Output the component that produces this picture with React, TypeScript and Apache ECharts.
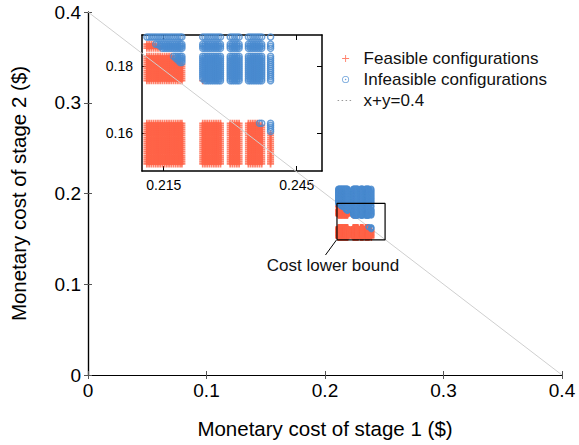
import React, { useEffect, useRef } from "react";
import * as echarts from "echarts";

// x positions (stage 1 cost, $) of the configuration columns
const colsA = [0.2112, 0.2117, 0.2122, 0.2127, 0.2132, 0.2137, 0.2142, 0.2147, 0.2152, 0.2157, 0.2162, 0.2167, 0.2172, 0.2177, 0.2182, 0.2187, 0.2191];
const colsB = [0.2238, 0.2243, 0.2248, 0.2253, 0.2258, 0.2263, 0.2268, 0.2273, 0.2278];
const colsC = [0.23, 0.2305, 0.231, 0.2315, 0.232];
const colsD = [0.2341, 0.2346, 0.2351, 0.2356, 0.2361, 0.2366, 0.2371];
const colsE = [0.2391];

// y positions (stage 2 cost, $) of the configuration rows
const rowsLow = [0.151, 0.1516, 0.1522, 0.1528, 0.1534, 0.154, 0.1546, 0.1552, 0.1558, 0.1564, 0.157, 0.1576, 0.1582, 0.1588, 0.1594, 0.16, 0.1606, 0.1612, 0.1618, 0.1624, 0.163];
const rowsMid = [0.1756, 0.1762, 0.1768, 0.1774, 0.178, 0.1786, 0.1792, 0.1798, 0.1804, 0.181, 0.1816, 0.1822, 0.1828];
const rowsUpper = [0.1852, 0.1858, 0.1864];
const rowsTop = [0.1885, 0.1893, 0.1901, 0.1909, 0.1917, 0.1925, 0.1933, 0.1941, 0.1949, 0.1957, 0.1965, 0.1973, 0.1981, 0.1989, 0.1997, 0.2005, 0.2013, 0.2021, 0.2029, 0.2037, 0.2045, 0.2053];

// total cost budget separating feasible from infeasible configurations
const costBudget = 0.3995;

// axis ticks and ranges
const mainTicks = [0, 0.1, 0.2, 0.3, 0.4];
const insetXTicks = [0.215, 0.245];
const insetYTicks = [0.16, 0.18];
const insetXRange = [0.2101, 0.2507];
const insetYRange = [0.1489, 0.1891];
const boundLine = [
  [0, 0.4],
  [0.4, 0],
];
// zoom box corners (same range as the inset)
const zoomBox = [
  [insetXRange[0], insetYRange[0]],
  [insetXRange[1], insetYRange[0]],
  [insetXRange[1], insetYRange[1]],
  [insetXRange[0], insetYRange[1]],
  [insetXRange[0], insetYRange[0]],
];

const xColumns = [...colsA, ...colsB, ...colsC, ...colsD, ...colsE];
const yRows = [...rowsLow, ...rowsMid, ...rowsUpper, ...rowsTop];
const configs: number[][] = [];
xColumns.forEach((x) => yRows.forEach((y) => configs.push([x, y])));
const feasible = configs.filter((p) => p[0] + p[1] <= costBudget);
const infeasible = configs.filter((p) => p[0] + p[1] > costBudget);
const inInset = (p: number[]) => p[1] <= insetYRange[1] + 0.004;
const feasibleInset = feasible.filter(inInset);
const infeasibleInset = infeasible.filter(inInset);

const RED = "#ff6347";
const BLUE = "#4a8bcf";
const FONT = "'Liberation Sans', Arial, Helvetica, sans-serif";
const PLUS = "path://M-6,-1.5L6,-1.5L6,1.5L-6,1.5Z M-1.5,-6L1.5,-6L1.5,6L-1.5,6Z";
const PLUS_THIN = "path://M-6,-0.8L6,-0.8L6,0.8L-6,0.8Z M-0.8,-6L0.8,-6L0.8,6L-0.8,6Z";
const RING =
  "path://M0,-6A6,6 0 1,1 0,6A6,6 0 1,1 0,-6Z M0,-4.6A4.6,4.6 0 1,0 0,4.6A4.6,4.6 0 1,0 0,-4.6Z M0,-1.3A1.3,1.3 0 1,1 0,1.3A1.3,1.3 0 1,1 0,-1.3Z";

export default function App() {
  const ref = useRef<HTMLDivElement>(null);
  useEffect(() => {
    if (!ref.current) return;
    const chart = echarts.init(ref.current, undefined, { renderer: "svg" });
    const mainAxisCommon = {
      type: "value" as const,
      min: 0,
      max: 0.4,
      interval: 0.1,
      splitLine: { show: false },
      axisLine: { show: true, lineStyle: { color: "#000", width: 1.2 } },
      axisTick: { show: true, inside: true, length: 4, lineStyle: { color: "#555" } },
    };
    const insetAxisLine = { show: true, lineStyle: { color: "#000", width: 1.5 } };
    const insetTick = (vals: number[]) => ({
      show: true,
      inside: true,
      length: 5,
      customValues: vals,
      lineStyle: { color: "#000", width: 1 },
    });
    chart.setOption({
      animation: false,
      textStyle: { fontFamily: FONT },
      grid: [
        { left: 87, right: 17, top: 12, bottom: 70 },
        { left: 142, top: 35, width: 180, height: 136 },
      ],
      xAxis: [
        {
          ...mainAxisCommon,
          gridIndex: 0,
          position: "bottom",
          name: "Monetary cost of stage 1 ($)",
          nameLocation: "middle",
          nameGap: 43,
          nameTextStyle: { fontSize: 20.5, color: "#000", fontFamily: FONT },
          axisLabel: { fontSize: 19, color: "#000", margin: 6, fontFamily: FONT, customValues: mainTicks },
        },
        {
          ...mainAxisCommon,
          gridIndex: 0,
          position: "top",
          axisLabel: { show: false },
        },
        {
          type: "value",
          gridIndex: 1,
          position: "bottom",
          min: insetXRange[0],
          max: insetXRange[1],
          splitLine: { show: false },
          axisLine: insetAxisLine,
          axisTick: insetTick(insetXTicks),
          axisLabel: { fontSize: 14, color: "#000", margin: 7, fontFamily: FONT, customValues: insetXTicks },
        },
        {
          type: "value",
          gridIndex: 1,
          position: "top",
          min: insetXRange[0],
          max: insetXRange[1],
          splitLine: { show: false },
          axisLine: insetAxisLine,
          axisTick: insetTick(insetXTicks),
          axisLabel: { show: false },
        },
      ],
      yAxis: [
        {
          ...mainAxisCommon,
          gridIndex: 0,
          position: "left",
          name: "Monetary cost of stage 2 ($)",
          nameLocation: "middle",
          nameGap: 59,
          nameTextStyle: { fontSize: 20.5, color: "#000", fontFamily: FONT },
          axisLabel: { fontSize: 19, color: "#000", margin: 7, fontFamily: FONT, customValues: mainTicks },
        },
        {
          ...mainAxisCommon,
          gridIndex: 0,
          position: "right",
          axisLabel: { show: false },
        },
        {
          type: "value",
          gridIndex: 1,
          position: "left",
          min: insetYRange[0],
          max: insetYRange[1],
          splitLine: { show: false },
          axisLine: insetAxisLine,
          axisTick: insetTick(insetYTicks),
          axisLabel: { fontSize: 14, color: "#000", margin: 9, fontFamily: FONT, customValues: insetYTicks },
        },
        {
          type: "value",
          gridIndex: 1,
          position: "right",
          min: insetYRange[0],
          max: insetYRange[1],
          splitLine: { show: false },
          axisLine: insetAxisLine,
          axisTick: insetTick(insetYTicks),
          axisLabel: { show: false },
        },
      ],
      legend: {
        orient: "vertical",
        left: 337,
        top: 50,
        padding: 0,
        itemWidth: 16,
        itemHeight: 7,
        itemGap: 4,
        selectedMode: false,
        textStyle: { fontSize: 17, color: "#111", fontFamily: FONT, padding: [0, 0, 0, 5] },
        data: [
          { name: "Feasible configurations", icon: PLUS_THIN, itemStyle: { color: RED } },
          { name: "Infeasible configurations", icon: RING, itemStyle: { color: BLUE, borderWidth: 0 } },
          {
            name: "x+y=0.4",
            itemStyle: { color: "rgba(0,0,0,0)", borderWidth: 0 },
            lineStyle: { type: [1.5, 2.5], color: "#999", width: 1.2 },
          },
        ],
      },
      series: [
        {
          name: "Feasible configurations",
          type: "scatter",
          xAxisIndex: 0,
          yAxisIndex: 0,
          data: feasible,
          symbol: PLUS,
          symbolSize: 6,
          itemStyle: { color: RED },
          silent: true,
          z: 7,
        },
        {
          name: "Infeasible configurations",
          type: "scatter",
          xAxisIndex: 0,
          yAxisIndex: 0,
          data: infeasible,
          symbol: "circle",
          symbolSize: 5,
          itemStyle: { color: "rgba(0,0,0,0)", borderColor: BLUE, borderWidth: 1.2 },
          silent: true,
          z: 7,
        },
        {
          name: "x+y=0.4",
          type: "line",
          xAxisIndex: 0,
          yAxisIndex: 0,
          data: boundLine,
          symbol: "none",
          itemStyle: { color: "#cfcfcf" },
          lineStyle: { color: "#cfcfcf", width: 1 },
          silent: true,
          z: 6,
          markLine: {
            silent: true,
            symbol: ["none", "arrow"],
            symbolSize: [0, 7],
            label: { show: false },
            lineStyle: { color: "#000", width: 1, type: "solid" },
            data: [[{ coord: [0.2004, 0.1322] }, { coord: [0.2097, 0.1488] }]],
          },
          markPoint: {
            silent: true,
            symbol: "circle",
            symbolSize: 0,
            label: {
              show: true,
              position: "inside",
              formatter: "Cost lower bound",
              fontSize: 17,
              color: "#111",
              fontFamily: FONT,
            },
            data: [{ coord: [0.2067, 0.1205] }],
          },
        },
        {
          name: "zoom box",
          type: "line",
          xAxisIndex: 0,
          yAxisIndex: 0,
          data: zoomBox,
          symbol: "none",
          lineStyle: { color: "#000", width: 1.2 },
          silent: true,
          z: 8,
        },
        {
          name: "Feasible configurations",
          type: "scatter",
          xAxisIndex: 2,
          yAxisIndex: 2,
          data: feasibleInset,
          symbol: PLUS,
          symbolSize: 7,
          itemStyle: { color: RED },
          clip: true,
          silent: true,
          z: 3,
        },
        {
          name: "Infeasible configurations",
          type: "scatter",
          xAxisIndex: 2,
          yAxisIndex: 2,
          data: infeasibleInset,
          symbol: "circle",
          symbolSize: 6,
          itemStyle: { color: "rgba(0,0,0,0)", borderColor: BLUE, borderWidth: 1.5 },
          clip: true,
          silent: true,
          z: 3,
        },
      ],
    });
    return () => chart.dispose();
  }, []);
  return (
    <div
      ref={ref}
      style={{ position: "fixed", left: 0, top: 0, width: 579, height: 445, background: "#fff" }}
    />
  );
}
